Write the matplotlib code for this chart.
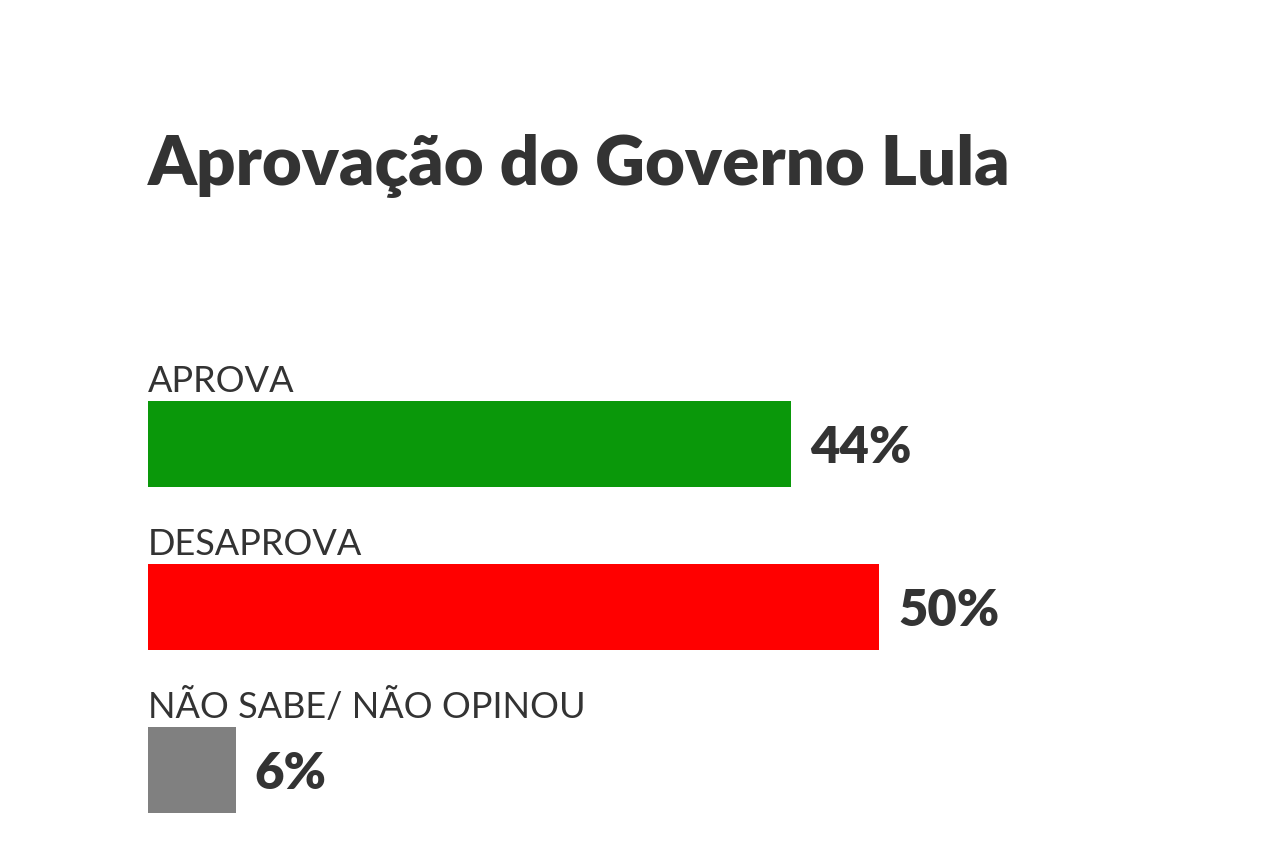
import matplotlib
matplotlib.use("Agg")
from matplotlib import pyplot as plt

plt.rcParams['font.family'] = ['Lato', 'DejaVu Sans']

TITLE = "Aprovação do Governo Lula"
categories = ["APROVA", "DESAPROVA", "NÃO SABE/ NÃO OPINOU"]
values = [44, 50, 6]
colors = ["#0a980a", "#ff0000", "#808080"]
TEXT = "#333333"

W, H = 1284, 844
fig = plt.figure(figsize=(W / 100, H / 100), dpi=100)
fig.patch.set_facecolor("white")

# axes spans whole figure height; x starts where the bars start
left_px = 148
px_per_pct = 14.62
row_px = 163
first_center_px = 444
ax = fig.add_axes([left_px / W, 0, 1 - left_px / W, 1])
ax.set_xlim(0, (W - left_px) / px_per_pct)
ax.set_ylim((H - first_center_px) / row_px, -first_center_px / row_px)
ax.axis("off")

ys = list(range(len(categories)))
bar_h = 86 / row_px
ax.barh(ys, values, height=bar_h, color=colors, left=0)

for y, cat, v in zip(ys, categories, values):
    ax.text(0, y - 52 / row_px, cat, ha="left", va="baseline",
            fontsize=26, color=TEXT)
    ax.text(v + 19 / px_per_pct, y + 19 / row_px, f"{v}%", ha="left",
            va="baseline", fontsize=36.5, fontweight="heavy", color=TEXT)

fig.text(148 / W, 1 - 185 / H, TITLE, ha="left", va="baseline",
         fontsize=49.6, fontweight="heavy", color=TEXT)

fig.savefig("out.png", dpi=100, facecolor="white")
